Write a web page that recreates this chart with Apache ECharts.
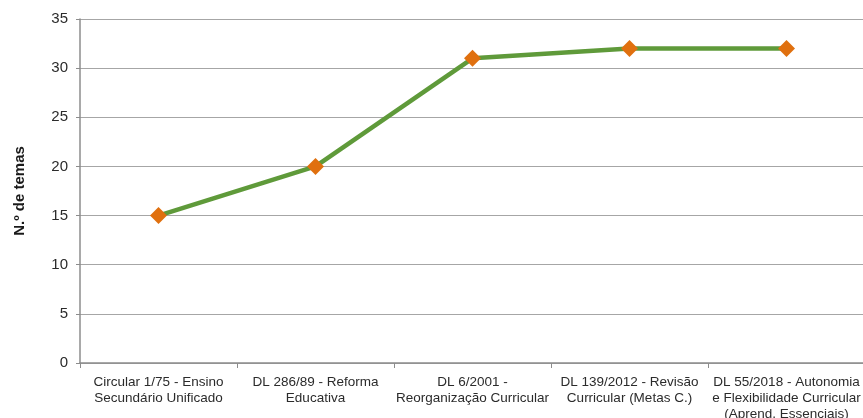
<!DOCTYPE html>
<html>
<head>
<meta charset="utf-8">
<style>
  html, body { margin: 0; padding: 0; background: #fff; }
  #chart { width: 863px; height: 418px; }
</style>
<script src="https://cdn.jsdelivr.net/npm/echarts@6/dist/echarts.min.js"></script>
</head>
<body>
<div id="chart"></div>
<script>
// Número de temas por reforma curricular
const categories = [
  'Circular 1/75 - Ensino\nSecundário Unificado',
  'DL 286/89 - Reforma\nEducativa',
  'DL 6/2001 -\nReorganização Curricular',
  'DL 139/2012 - Revisão\nCurricular (Metas C.)',
  'DL 55/2018 - Autonomia\ne Flexibilidade Curricular\n(Aprend. Essenciais)'
];
const temas = [15, 20, 31, 32, 32];
const yTicks = { min: 0, max: 35, interval: 5 };

const chart = echarts.init(document.getElementById('chart'), null, { renderer: 'canvas' });
chart.setOption({
  animation: false,
  textStyle: { fontFamily: 'Liberation Sans, Arial, sans-serif' },
  grid: { left: 80, right: -2, top: 19, bottom: 55, outerBoundsMode: 'none', containLabel: false },
  xAxis: {
    type: 'category',
    data: categories,
    boundaryGap: true,
    axisLine: { lineStyle: { color: '#8c8c8c', width: 1.5 } },
    axisTick: { show: true, alignWithLabel: false, length: 5, lineStyle: { color: '#8c8c8c' } },
    axisLabel: {
      interval: 0,
      color: '#2b2b2b',
      fontSize: 13.5,
      lineHeight: 16,
      margin: 11
    },
    splitLine: { show: false }
  },
  yAxis: {
    type: 'value',
    min: yTicks.min,
    max: yTicks.max,
    interval: yTicks.interval,
    name: 'N.º de temas',
    nameLocation: 'middle',
    nameGap: 53,
    nameRotate: 90,
    nameTextStyle: { fontSize: 15, fontWeight: 'bold', color: '#1a1a1a' },
    axisLine: { show: true, lineStyle: { color: '#8c8c8c', width: 1.5 } },
    axisTick: { show: true, length: 4, lineStyle: { color: '#8c8c8c' } },
    axisLabel: { color: '#2b2b2b', fontSize: 15, margin: 12 },
    splitLine: { show: true, lineStyle: { color: '#a6a6a6', width: 1 } }
  },
  series: [{
    type: 'line',
    data: temas,
    symbol: 'diamond',
    symbolSize: 17,
    lineStyle: { color: '#5f9a3a', width: 4.5 },
    itemStyle: { color: '#e0700f', borderWidth: 0 },
    z: 3
  }]
});
</script>
</body>
</html>
